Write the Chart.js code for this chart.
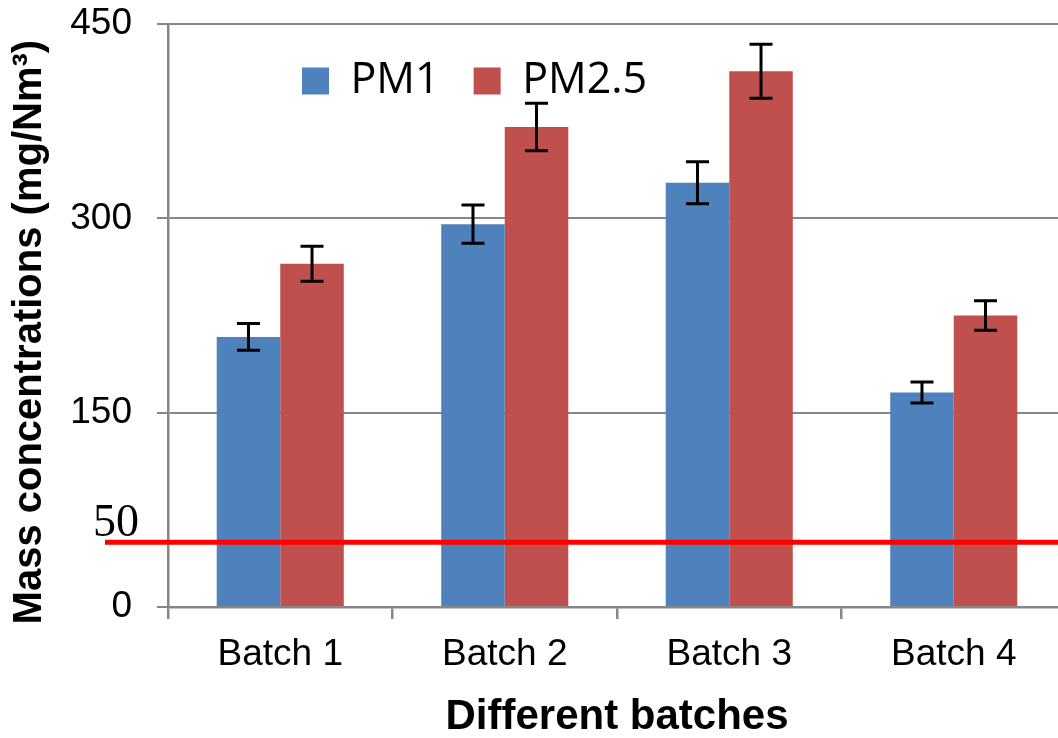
<!DOCTYPE html>
<html><head><meta charset="utf-8">
<script src="https://cdn.jsdelivr.net/npm/chart.js@4"></script>
<style>
html,body{margin:0;padding:0;background:#fff;overflow:hidden;}
#wrap{position:relative;width:1068px;height:738px;}
</style></head><body>
<div id="wrap"><canvas id="c" width="1068" height="738"></canvas></div>
<script>
const categories = ['Batch 1', 'Batch 2', 'Batch 3', 'Batch 4'];
const pm1Values = [208.5, 295.5, 327.5, 165.5];
const pm25Values = [265, 370.5, 413.5, 225];
const pm1Errors = [10.3, 14.7, 16.2, 8.1];
const pm25Errors = [13.5, 18.4, 20.9, 11.3];
const yTicks = [0, 150, 300, 450];
const limitValue = 50;
const limitLabel = '50';
const seriesNames = ['PM1', 'PM2.5'];

const SANS = '"Liberation Sans", Arial, sans-serif';
const GRID = '#868686';

const errorBars = {
  id: 'errorBars',
  afterDatasetsDraw(chart) {
    const ctx = chart.ctx, ys = chart.scales.y;
    chart.data.datasets.forEach((ds, i) => {
      const meta = chart.getDatasetMeta(i);
      meta.data.forEach((bar, j) => {
        const v = ds.data[j], e = ds.errors[j];
        const t = ys.getPixelForValue(v + e), b = ys.getPixelForValue(v - e);
        ctx.save();
        ctx.strokeStyle = '#000';
        ctx.lineWidth = 3;
        ctx.beginPath();
        ctx.moveTo(bar.x, t); ctx.lineTo(bar.x, b);
        ctx.moveTo(bar.x - 11.5, t); ctx.lineTo(bar.x + 11.5, t);
        ctx.moveTo(bar.x - 11.5, b); ctx.lineTo(bar.x + 11.5, b);
        ctx.stroke();
        ctx.restore();
      });
    });
  }
};

const limitLine = {
  id: 'limitLine',
  afterDatasetsDraw(chart) {
    const ctx = chart.ctx, ys = chart.scales.y;
    const py = ys.getPixelForValue(limitValue);
    ctx.save();
    ctx.strokeStyle = '#FF0000';
    ctx.lineWidth = 5;
    ctx.beginPath();
    ctx.moveTo(105, py); ctx.lineTo(chart.width, py);
    ctx.stroke();
    ctx.fillStyle = '#000';
    ctx.font = '46px "Liberation Serif", "Times New Roman", serif';
    ctx.textAlign = 'left';
    ctx.textBaseline = 'alphabetic';
    ctx.fillText(limitLabel, 93, py - 6);
    ctx.restore();
  }
};

const legendMover = {
  id: 'legendMover',
  afterInit(chart) {
    if (chart.legend) chart.legend.isHorizontal = () => true;
  },
  afterLayout(chart) {
    const l = chart.legend;
    if (!l) return;
    const pad = l.options.labels.padding;
    const w = 700, h = 200;
    l.left = 302 - pad; l.right = l.left + w; l.width = w;
    l.top = 59.5 - pad; l.bottom = l.top + h; l.height = h;
  }
};

new Chart(document.getElementById('c'), {
  type: 'bar',
  data: {
    labels: categories,
    datasets: [
      { label: seriesNames[0], data: pm1Values, errors: pm1Errors, backgroundColor: '#4F81BD', borderWidth: 0 },
      { label: seriesNames[1], data: pm25Values, errors: pm25Errors, backgroundColor: '#C0504D', borderWidth: 0 }
    ]
  },
  options: {
    responsive: false,
    animation: false,
    events: [],
    layout: { padding: { top: 24, right: 2, left: 0, bottom: 0 } },
    datasets: { bar: { categoryPercentage: 0.566, barPercentage: 1 } },
    plugins: {
      tooltip: { enabled: false },
      legend: {
        position: 'chartArea',
        align: 'start',
        labels: {
          boxWidth: 27, boxHeight: 27, padding: 34, color: '#000',
          font: { family: '"Open Sans", sans-serif', size: 43 }
        }
      }
    },
    scales: {
      x: {
        offset: true,
        afterFit(s) { s.height = 131; s.paddingLeft = 0; s.paddingRight = 0; },
        grid: { offset: true, drawOnChartArea: false, drawTicks: true, tickLength: 12, color: GRID, lineWidth: 2.5 },
        border: { display: true, color: GRID, width: 2.5 },
        ticks: { color: '#000', padding: 14, maxRotation: 0, autoSkip: false, font: { family: SANS, size: 37 } },
        title: {
          display: true, text: 'Different batches', color: '#000',
          font: { family: SANS, size: 42, weight: 'bold', lineHeight: 1 },
          padding: { top: 0, bottom: 0 }
        }
      },
      y: {
        min: 0, max: 450,
        afterFit(s) { s.width = 168; s.paddingTop = 0; s.paddingBottom = 0; },
        afterBuildTicks(s) { s.ticks = yTicks.map(v => ({ value: v })); },
        grid: { color: GRID, lineWidth: 2, drawTicks: true, tickLength: 11 },
        border: { display: true, color: GRID, width: 2.5 },
        ticks: { color: '#000', padding: 25, font: { family: SANS, size: 37 } },
        title: {
          display: true, text: 'Mass concentrations (mg/Nm³)   ', color: '#000',
          font: { family: SANS, size: 40, weight: 'bold', lineHeight: 1.2 },
          padding: { top: 6, bottom: 0 }
        }
      }
    }
  },
  plugins: [errorBars, limitLine, legendMover]
});
</script>
</body></html>
